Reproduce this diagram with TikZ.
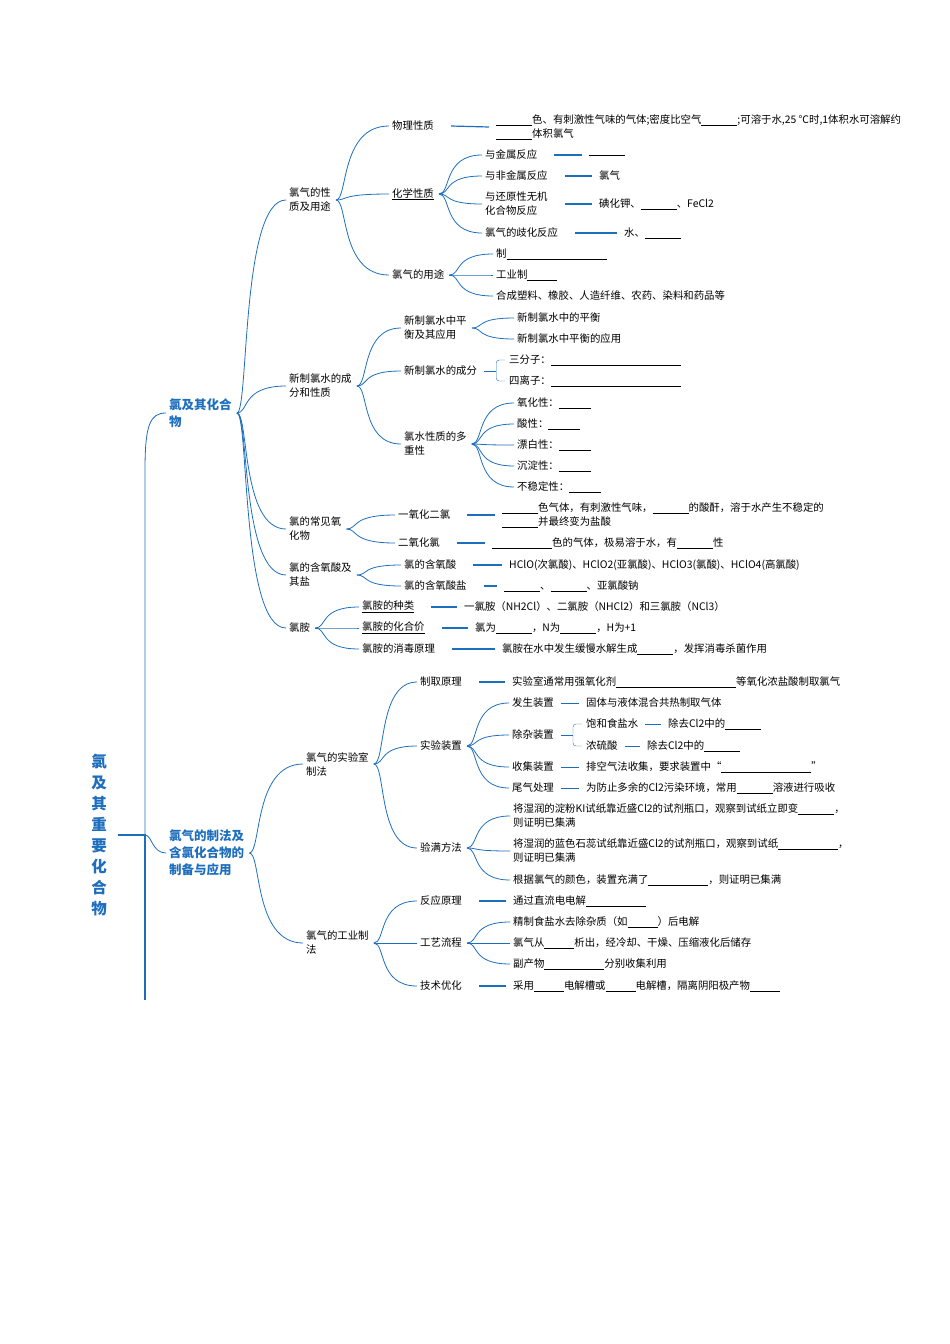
\documentclass[tikz,border=0pt]{standalone}
\usepackage{fontspec}
\setmainfont{Noto Sans CJK SC}
\usetikzlibrary{calc}
\definecolor{mmblue}{RGB}{30,110,190}
\newcommand\bk[1][36]{\rule[-1.5pt]{#1pt}{0.5pt}}
\newcommand\br[2]{\draw[link] ($(#1.east)+(4,0)$) .. controls ($(#1.east)+(16,0)$) and ($(#1.east|-#2.west)+(8,0)$) .. ($(#2.west)+(-2,0)$);}
\newcommand\st[2]{\draw[link,line width=1.2pt] ($(#1.east)+(16,0)$) -- ($(#2.west)+(-6,0)$);}
\newcommand\bra[3]{\draw[link,thin] ($(#1.east)+(6,0)$) -- ++(12,0) coordinate (j);
  \draw[link,thin,rounded corners=3pt] ($(#2.west)+(-3,0)$) -| (j) |- ($(#3.west)+(-3,0)$);}
\begin{document}
\begin{tikzpicture}[x=1pt,y=-1pt,
  tx/.style={anchor=west, inner sep=1pt, align=left, font=\fontsize{10.4}{14}\selectfont},
  lv1/.style={tx, text=mmblue, font=\fontsize{12.5}{17}\selectfont\bfseries},
  link/.style={draw=mmblue, line width=0.8pt}]
\useasboundingbox (0,0) rectangle (950,1344);
% root and main branches
\node[text=mmblue, align=center, font=\fontsize{15.5}{21}\selectfont\bfseries] (root) at (99,835) {氯\\及\\其\\重\\要\\化\\合\\物};
\node[lv1] (chl) at (168,413) {氯及其化合\\物};
\node[lv1] (prep) at (168,853) {氯气的制法及\\含氯化合物的\\制备与应用};
\coordinate (rj) at (145,835);
\coordinate (rend) at (145,1000);
\draw[link, line width=1.6pt] ($(root.east)+(8,0)$) .. controls (138,835) .. (rj) -- (rend);
\draw[link] (rj) -- (145,470) .. controls (145,425) and (150,413) .. ($(chl.west)+(-2,0)$);
\draw[link] (rj) .. controls (152,835) and (152,853) .. ($(prep.west)+(-2,0)$);

% chlorine and compounds
\node[tx] (prop) at (288,200) {氯气的性\\质及用途};
\node[tx] (water) at (288,386) {新制氯水的成\\分和性质};
\node[tx] (oxide) at (288,529) {氯的常见氧\\化物};
\node[tx] (acid) at (288,575) {氯的含氧酸及\\其盐};
\node[tx] (amine) at (288,628) {氯胺};
\foreach \c in {prop,water,oxide,acid,amine} {\br{chl}{\c}}

\node[tx] (phys) at (391,126) {物理性质};
\node[tx] (chem) at (391,194) {\underline{化学性质}};
\node[tx] (use) at (391,275) {氯气的用途};
\foreach \c in {phys,chem,use} {\br{prop}{\c}}
\node[tx] (physT) at (495,127) {\bk{}色、有刺激性气味的气体;密度比空气\bk{};可溶于水,25 ℃时,1体积水可溶解约\\\bk{}体积氯气};
\st{phys}{physT}

\node[tx] (metal) at (484,155) {与金属反应};
\node[tx] (nonm) at (484,176) {与非金属反应};
\node[tx] (redu) at (484,204) {与还原性无机\\化合物反应};
\node[tx] (disp) at (484,233) {氯气的歧化反应};
\foreach \c in {metal,nonm,redu,disp} {\br{chem}{\c}}
\node[tx] (metalT) at (588,155) {\bk{}};
\node[tx] (nonmT) at (598,176) {氯气};
\node[tx] (reduT) at (598,204) {碘化钾、\bk{}、FeCl2};
\node[tx] (dispT) at (623,233) {水、\bk{}};
\st{metal}{metalT} \st{nonm}{nonmT} \st{redu}{reduT} \st{disp}{dispT}

\node[tx] (use1) at (495,254) {制\bk[100]};
\node[tx] (use2) at (495,275) {工业制\bk[30]};
\node[tx] (use3) at (495,296) {合成塑料、橡胶、人造纤维、农药、染料和药品等};
\foreach \c in {use1,use2,use3} {\br{use}{\c}}

\node[tx] (equ) at (403,328) {新制氯水中平\\衡及其应用};
\node[tx] (comp) at (403,371) {新制氯水的成分};
\node[tx] (multi) at (403,444) {氯水性质的多\\重性};
\foreach \c in {equ,comp,multi} {\br{water}{\c}}
\node[tx] (equ1) at (516,318) {新制氯水中的平衡};
\node[tx] (equ2) at (516,339) {新制氯水中平衡的应用};
\br{equ}{equ1} \br{equ}{equ2}
\node[tx] (mol) at (508,360) {三分子：\bk[130]};
\node[tx] (ion) at (508,381) {四离子：\bk[130]};
\bra{comp}{mol}{ion}
\node[tx] (ox) at (516,403) {氧化性：\bk[32]};
\node[tx] (ac) at (516,424) {酸性：\bk[32]};
\node[tx] (bl) at (516,445) {漂白性：\bk[32]};
\node[tx] (pr) at (516,466) {沉淀性：\bk[32]};
\node[tx] (un) at (516,487) {不稳定性：\bk[32]};
\foreach \c in {ox,ac,bl,pr,un} {\br{multi}{\c}}

\node[tx] (cl2o) at (397,515) {一氧化二氯};
\node[tx] (clo2) at (397,543) {二氧化氯};
\br{oxide}{cl2o} \br{oxide}{clo2}
\node[tx] (cl2oT) at (501,515) {\bk{}色气体，有刺激性气味，\bk{}的酸酐，溶于水产生不稳定的\\\bk{}并最终变为盐酸};
\node[tx] (clo2T) at (491,543) {\bk[60]色的气体，极易溶于水，有\bk{}性};
\st{cl2o}{cl2oT} \st{clo2}{clo2T}

\node[tx] (oxa) at (403,565) {氯的含氧酸};
\node[tx] (oxs) at (403,586) {氯的含氧酸盐};
\br{acid}{oxa} \br{acid}{oxs}
\node[tx] (oxaT) at (508,565) {HClO(次氯酸)、HClO2(亚氯酸)、HClO3(氯酸)、HClO4(高氯酸)};
\node[tx] (oxsT) at (503,586) {\bk{}、\bk{}、亚氯酸钠};
\st{oxa}{oxaT} \st{oxs}{oxsT}

\node[tx] (kind) at (361,607) {\underline{氯胺的种类}};
\node[tx] (val) at (361,628) {\underline{氯胺的化合价}};
\node[tx] (dis) at (361,649) {氯胺的消毒原理};
\foreach \c in {kind,val,dis} {\br{amine}{\c}}
\node[tx] (kindT) at (463,607) {一氯胺（NH2Cl）、二氯胺（NHCl2）和三氯胺（NCl3）};
\node[tx] (valT) at (474,628) {氯为\bk{}，N为\bk{}，H为+1};
\node[tx] (disT) at (501,649) {氯胺在水中发生缓慢水解生成\bk{}，发挥消毒杀菌作用};
\st{kind}{kindT} \st{val}{valT} \st{dis}{disT}

% preparation
\node[tx] (lab) at (305,764) {氯气的实验室\\制法};
\node[tx] (ind) at (305,943) {氯气的工业制\\法};
\br{prep}{lab} \br{prep}{ind}

\node[tx] (prin) at (419,682) {制取原理};
\node[tx] (app) at (419,746) {实验装置};
\node[tx] (full) at (419,848) {验满方法};
\foreach \c in {prin,app,full} {\br{lab}{\c}}
\node[tx] (prinT) at (511,682) {实验室通常用强氧化剂\bk[120]等氧化浓盐酸制取氯气};
\st{prin}{prinT}

\node[tx] (gen) at (511,703) {发生装置};
\node[tx] (pur) at (511,735) {除杂装置};
\node[tx] (col) at (511,767) {收集装置};
\node[tx] (tail) at (511,788) {尾气处理};
\foreach \c in {gen,pur,col,tail} {\br{app}{\c}}
\node[tx] (genT) at (585,703) {固体与液体混合共热制取气体};
\node[tx] (colT) at (585,767) {排空气法收集，要求装置中“\bk[90]”};
\node[tx] (tailT) at (585,788) {为防止多余的Cl2污染环境，常用\bk{}溶液进行吸收};
\draw[link,thin] ($(gen.east)+(6,0)$) -- ($(genT.west)+(-6,0)$);
\draw[link,thin] ($(col.east)+(6,0)$) -- ($(colT.west)+(-6,0)$);
\draw[link,thin] ($(tail.east)+(6,0)$) -- ($(tailT.west)+(-6,0)$);
\node[tx] (salt) at (585,724) {饱和食盐水};
\node[tx] (sulf) at (585,746) {浓硫酸};
\bra{pur}{salt}{sulf}
\node[tx] (saltT) at (667,724) {除去Cl2中的\bk{}};
\node[tx] (sulfT) at (646,746) {除去Cl2中的\bk{}};
\draw[link,thin] ($(salt.east)+(6,0)$) -- ($(saltT.west)+(-6,0)$);
\draw[link,thin] ($(sulf.east)+(6,0)$) -- ($(sulfT.west)+(-6,0)$);

\node[tx] (ki) at (512,816) {将湿润的淀粉KI试纸靠近盛Cl2的试剂瓶口，观察到试纸立即变\bk{}，\\则证明已集满};
\node[tx] (lit) at (512,851) {将湿润的蓝色石蕊试纸靠近盛Cl2的试剂瓶口，观察到试纸\bk[60]，\\则证明已集满};
\node[tx] (colr) at (512,880) {根据氯气的颜色，装置充满了\bk[60]，则证明已集满};
\foreach \c in {ki,lit,colr} {\br{full}{\c}}

\node[tx] (rea) at (419,901) {反应原理};
\node[tx] (flow) at (419,943) {工艺流程};
\node[tx] (opt) at (419,986) {技术优化};
\foreach \c in {rea,flow,opt} {\br{ind}{\c}}
\node[tx] (reaT) at (512,901) {通过直流电电解\bk[60]};
\node[tx] (optT) at (512,986) {采用\bk[30]电解槽或\bk[30]电解槽，隔离阴阳极产物\bk[30]};
\st{rea}{reaT} \st{opt}{optT}
\node[tx] (fl1) at (512,922) {精制食盐水去除杂质（如\bk[30]）后电解};
\node[tx] (fl2) at (512,943) {氯气从\bk[30]析出，经冷却、干燥、压缩液化后储存};
\node[tx] (fl3) at (512,964) {副产物\bk[60]分别收集利用};
\foreach \c in {fl1,fl2,fl3} {\br{flow}{\c}}
\end{tikzpicture}
\end{document}
